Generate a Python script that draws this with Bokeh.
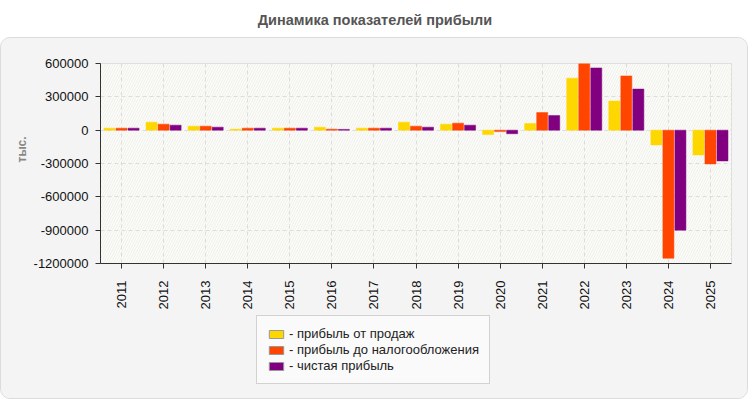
from bokeh.plotting import figure
from bokeh.models import (ColumnDataSource, FactorRange, FixedTicker, NumeralTickFormatter,
                          Legend, LegendItem, BoxAnnotation, Div, Title)
from bokeh.transform import dodge
from bokeh.layouts import column
from bokeh.embed import file_html
from bokeh.resources import INLINE

years = [str(y) for y in range(2011, 2026)]
sales_profit = [18000, 72000, 36000, 9000, 18000, 27000, 18000, 72000, 54000, -40000,
                60000, 468000, 262000, -133000, -223000]
pretax_profit = [18000, 54000, 36000, 18000, 18000, 9000, 18000, 36000, 63000, -13000,
                 158000, 612000, 488000, -1153000, -304000]
net_profit = [18000, 45000, 27000, 18000, 18000, 7000, 18000, 27000, 45000, -32000,
              131000, 560000, 370000, -900000, -277000]
y_ticks = [-1200000, -900000, -600000, -300000, 0, 300000, 600000]
series_names = ["- прибыль от продаж", "- прибыль до налогообложения", "- чистая прибыль"]
colors = ["#FFD700", "#FF4500", "#800080"]

title = "Динамика показателей прибыли"
y_label = "тыс."
font = "Liberation Sans"
panel_bg = "#F4F4F4"

src = ColumnDataSource(dict(year=years, s=sales_profit, p=pretax_profit, n=net_profit))

p = figure(x_range=FactorRange(*years), y_range=(-1200000, 600000),
           width=746, height=275, output_backend="svg", toolbar_location=None,
           min_border_left=99, min_border_right=16, min_border_top=25, min_border_bottom=50,
           background_fill_color="#FDFDF7", border_fill_color=panel_bg,
           outline_line_color="#DDDDDD", margin=(0, 0, 0, 0))

bg = BoxAnnotation(fill_alpha=0, line_alpha=0, hatch_pattern="/", hatch_color="#EEEEEE",
                   hatch_scale=5, hatch_weight=1, level="image")
p.add_layout(bg)

offsets = [-0.2857, 0.0, 0.2857]
fields = ["s", "p", "n"]
for f, off, c in zip(fields, offsets, colors):
    p.vbar(x=dodge("year", off, range=p.x_range), top=f, bottom=0, width=0.262,
           source=src, fill_color=c, line_color=c, line_width=0.5)

p.yaxis.ticker = FixedTicker(ticks=y_ticks)
p.yaxis.formatter = NumeralTickFormatter(format="0")
p.yaxis.major_label_standoff = 7

ylab = Title(text=y_label, align="left", offset=101, standoff=4, text_font=font,
             text_font_size="12px", text_font_style="bold", text_color="#888888")
p.add_layout(ylab, "left")

for ax in (p.xaxis, p.yaxis):
    ax.axis_line_color = "#333333"
    ax.major_tick_line_color = "#333333"
    ax.major_tick_out = 5
    ax.major_tick_in = 0
    ax.minor_tick_line_color = None
    ax.major_label_text_font = font
    ax.major_label_text_font_size = "13px"
    ax.major_label_text_color = "#111111"

p.xaxis.major_label_orientation = 1.5708
p.xaxis.major_label_standoff = 12

p.xgrid.grid_line_color = "#DDDDDD"
p.xgrid.grid_line_dash = "4 3"
p.ygrid.grid_line_color = "#DDDDDD"
p.ygrid.grid_line_dash = "4 3"
p.ygrid.ticker = FixedTicker(ticks=y_ticks)

# legend in its own small figure below the chart (swatch renderers lie outside its range)
lf = figure(width=746, height=85, output_backend="svg", toolbar_location=None,
            x_axis_type=None, y_axis_type=None, x_range=(0, 1), y_range=(0, 1),
            min_border=0, background_fill_color=panel_bg, border_fill_color=panel_bg,
            outline_line_color=None, margin=(0, 0, 0, 0))
lf.xgrid.visible = False
lf.ygrid.visible = False
items = []
for name, c in zip(series_names, colors):
    r = lf.vbar(x=[-5], top=[-5], bottom=[-6], width=0.2, fill_color=c, line_color="#999999")
    items.append(LegendItem(label=name, renderers=[r]))
legend = Legend(items=items, location=(156, 14), orientation="vertical",
                glyph_width=18, glyph_height=10, label_standoff=4, spacing=1,
                padding=10, margin=0, label_text_font=font, label_text_font_size="13px",
                label_text_color="#222222", background_fill_color="#FAFAFA",
                border_line_color="#AAAAAA", border_line_width=1)
lf.add_layout(legend, "center")

panel = column(p, lf, spacing=0, margin=(0, 0, 0, 0),
               styles={"border": "1px solid #DCDCDC", "border-radius": "10px",
                       "overflow": "hidden", "background-color": panel_bg})

div = Div(text=f'<div style="width:750px;text-align:center;font-family:{font};'
               f'font-weight:bold;font-size:14.5px;color:#555555;line-height:16px;margin-top:12px">{title}</div>',
          width=750, height=37, margin=(0, 0, 0, 0))

layout = column(div, panel, spacing=0)
open("out.html", "w").write(file_html(layout, INLINE))
